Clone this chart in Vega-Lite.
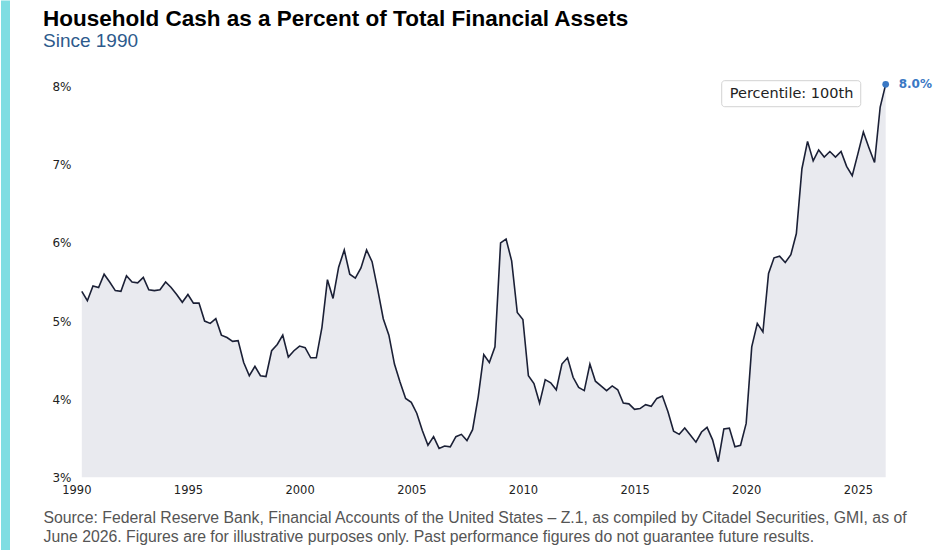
{
  "$schema": "https://vega.github.io/schema/vega-lite/v6.json",
  "width": 936,
  "height": 550,
  "autosize": {"type": "none"},
  "padding": 0,
  "background": "white",
  "title": {
    "text": "Household Cash as a Percent of Total Financial Assets",
    "subtitle": "Since 1990",
    "anchor": "start",
    "dx": 43,
    "offset": -51,
    "font": "Liberation Sans",
    "fontSize": 22.5,
    "fontWeight": "bold",
    "color": "#000000",
    "subtitleFont": "Liberation Sans",
    "subtitleFontSize": 19,
    "subtitleColor": "#2d5a8c",
    "subtitlePadding": 2
  },
  "config": {"view": {"stroke": null}},
  "datasets": {
    "cash": [
      {"date": "1990-03-31", "pct": 5.38}, {"date": "1990-06-30", "pct": 5.26}, {"date": "1990-09-30", "pct": 5.45}, {"date": "1990-12-31", "pct": 5.43},
      {"date": "1991-03-31", "pct": 5.60}, {"date": "1991-06-30", "pct": 5.50}, {"date": "1991-09-30", "pct": 5.39}, {"date": "1991-12-31", "pct": 5.38},
      {"date": "1992-03-31", "pct": 5.58}, {"date": "1992-06-30", "pct": 5.50}, {"date": "1992-09-30", "pct": 5.49}, {"date": "1992-12-31", "pct": 5.56},
      {"date": "1993-03-31", "pct": 5.40}, {"date": "1993-06-30", "pct": 5.39}, {"date": "1993-09-30", "pct": 5.40}, {"date": "1993-12-31", "pct": 5.50},
      {"date": "1994-03-31", "pct": 5.43}, {"date": "1994-06-30", "pct": 5.34}, {"date": "1994-09-30", "pct": 5.24}, {"date": "1994-12-31", "pct": 5.34},
      {"date": "1995-03-31", "pct": 5.23}, {"date": "1995-06-30", "pct": 5.23}, {"date": "1995-09-30", "pct": 5.00}, {"date": "1995-12-31", "pct": 4.97},
      {"date": "1996-03-31", "pct": 5.03}, {"date": "1996-06-30", "pct": 4.82}, {"date": "1996-09-30", "pct": 4.79}, {"date": "1996-12-31", "pct": 4.74},
      {"date": "1997-03-31", "pct": 4.75}, {"date": "1997-06-30", "pct": 4.47}, {"date": "1997-09-30", "pct": 4.30}, {"date": "1997-12-31", "pct": 4.42},
      {"date": "1998-03-31", "pct": 4.30}, {"date": "1998-06-30", "pct": 4.29}, {"date": "1998-09-30", "pct": 4.62}, {"date": "1998-12-31", "pct": 4.70},
      {"date": "1999-03-31", "pct": 4.82}, {"date": "1999-06-30", "pct": 4.54}, {"date": "1999-09-30", "pct": 4.62}, {"date": "1999-12-31", "pct": 4.68},
      {"date": "2000-03-31", "pct": 4.66}, {"date": "2000-06-30", "pct": 4.53}, {"date": "2000-09-30", "pct": 4.53}, {"date": "2000-12-31", "pct": 4.92},
      {"date": "2001-03-31", "pct": 5.53}, {"date": "2001-06-30", "pct": 5.29}, {"date": "2001-09-30", "pct": 5.69}, {"date": "2001-12-31", "pct": 5.91},
      {"date": "2002-03-31", "pct": 5.60}, {"date": "2002-06-30", "pct": 5.55}, {"date": "2002-09-30", "pct": 5.68}, {"date": "2002-12-31", "pct": 5.91},
      {"date": "2003-03-31", "pct": 5.76}, {"date": "2003-06-30", "pct": 5.41}, {"date": "2003-09-30", "pct": 5.03}, {"date": "2003-12-31", "pct": 4.82},
      {"date": "2004-03-31", "pct": 4.45}, {"date": "2004-06-30", "pct": 4.22}, {"date": "2004-09-30", "pct": 4.01}, {"date": "2004-12-31", "pct": 3.96},
      {"date": "2005-03-31", "pct": 3.82}, {"date": "2005-06-30", "pct": 3.60}, {"date": "2005-09-30", "pct": 3.41}, {"date": "2005-12-31", "pct": 3.52},
      {"date": "2006-03-31", "pct": 3.37}, {"date": "2006-06-30", "pct": 3.40}, {"date": "2006-09-30", "pct": 3.39}, {"date": "2006-12-31", "pct": 3.52},
      {"date": "2007-03-31", "pct": 3.55}, {"date": "2007-06-30", "pct": 3.47}, {"date": "2007-09-30", "pct": 3.61}, {"date": "2007-12-31", "pct": 4.03},
      {"date": "2008-03-31", "pct": 4.57}, {"date": "2008-06-30", "pct": 4.47}, {"date": "2008-09-30", "pct": 4.67}, {"date": "2008-12-31", "pct": 6.00},
      {"date": "2009-03-31", "pct": 6.05}, {"date": "2009-06-30", "pct": 5.77}, {"date": "2009-09-30", "pct": 5.11}, {"date": "2009-12-31", "pct": 5.02},
      {"date": "2010-03-31", "pct": 4.30}, {"date": "2010-06-30", "pct": 4.20}, {"date": "2010-09-30", "pct": 3.95}, {"date": "2010-12-31", "pct": 4.25},
      {"date": "2011-03-31", "pct": 4.21}, {"date": "2011-06-30", "pct": 4.12}, {"date": "2011-09-30", "pct": 4.45}, {"date": "2011-12-31", "pct": 4.53},
      {"date": "2012-03-31", "pct": 4.28}, {"date": "2012-06-30", "pct": 4.15}, {"date": "2012-09-30", "pct": 4.11}, {"date": "2012-12-31", "pct": 4.45},
      {"date": "2013-03-31", "pct": 4.23}, {"date": "2013-06-30", "pct": 4.17}, {"date": "2013-09-30", "pct": 4.11}, {"date": "2013-12-31", "pct": 4.17},
      {"date": "2014-03-31", "pct": 4.12}, {"date": "2014-06-30", "pct": 3.95}, {"date": "2014-09-30", "pct": 3.94}, {"date": "2014-12-31", "pct": 3.87},
      {"date": "2015-03-31", "pct": 3.88}, {"date": "2015-06-30", "pct": 3.93}, {"date": "2015-09-30", "pct": 3.91}, {"date": "2015-12-31", "pct": 4.01},
      {"date": "2016-03-31", "pct": 4.04}, {"date": "2016-06-30", "pct": 3.84}, {"date": "2016-09-30", "pct": 3.59}, {"date": "2016-12-31", "pct": 3.55},
      {"date": "2017-03-31", "pct": 3.63}, {"date": "2017-06-30", "pct": 3.54}, {"date": "2017-09-30", "pct": 3.45}, {"date": "2017-12-31", "pct": 3.58},
      {"date": "2018-03-31", "pct": 3.64}, {"date": "2018-06-30", "pct": 3.48}, {"date": "2018-09-30", "pct": 3.20}, {"date": "2018-12-31", "pct": 3.62},
      {"date": "2019-03-31", "pct": 3.63}, {"date": "2019-06-30", "pct": 3.39}, {"date": "2019-09-30", "pct": 3.41}, {"date": "2019-12-31", "pct": 3.69},
      {"date": "2020-03-31", "pct": 4.67}, {"date": "2020-06-30", "pct": 4.97}, {"date": "2020-09-30", "pct": 4.86}, {"date": "2020-12-31", "pct": 5.61},
      {"date": "2021-03-31", "pct": 5.81}, {"date": "2021-06-30", "pct": 5.83}, {"date": "2021-09-30", "pct": 5.75}, {"date": "2021-12-31", "pct": 5.85},
      {"date": "2022-03-31", "pct": 6.12}, {"date": "2022-06-30", "pct": 6.95}, {"date": "2022-09-30", "pct": 7.30}, {"date": "2022-12-31", "pct": 7.05},
      {"date": "2023-03-31", "pct": 7.19}, {"date": "2023-06-30", "pct": 7.10}, {"date": "2023-09-30", "pct": 7.17}, {"date": "2023-12-31", "pct": 7.10},
      {"date": "2024-03-31", "pct": 7.17}, {"date": "2024-06-30", "pct": 6.98}, {"date": "2024-09-30", "pct": 6.86}, {"date": "2024-12-31", "pct": 7.14},
      {"date": "2025-03-31", "pct": 7.42}, {"date": "2025-06-30", "pct": 7.22}, {"date": "2025-09-30", "pct": 7.03}, {"date": "2025-12-31", "pct": 7.74},
      {"date": "2026-03-31", "pct": 8.03}
    ]
  },
  "layer": [
    {
      "data": {"name": "cash"},
      "mark": {"type": "area", "color": "#e9eaef", "opacity": 1},
      "encoding": {
        "x": {
          "field": "date",
          "type": "temporal",
          "scale": {"domain": [{"year": 1986, "month": 8, "date": 1}, {"year": 2028, "month": 7, "date": 1}]},
          "axis": {
            "values": [
              {"year": 1986, "month": 10, "date": 14},
              {"year": 1990, "month": 1, "date": 1},
              {"year": 1995, "month": 1, "date": 1},
              {"year": 2000, "month": 1, "date": 1},
              {"year": 2005, "month": 1, "date": 1},
              {"year": 2010, "month": 1, "date": 1},
              {"year": 2015, "month": 1, "date": 1},
              {"year": 2020, "month": 1, "date": 1},
              {"year": 2025, "month": 1, "date": 1}
            ],
            "labelExpr": "year(datum.value) < 1990 ? '' : timeFormat(datum.value, '%Y')",
            "labelOverlap": false,
            "labelFlush": false,
            "offset": -72.7,
            "domain": false,
            "ticks": false,
            "tickSize": 0,
            "labelPadding": 7,
            "labelFont": "DejaVu Sans",
            "labelFontSize": 11.5,
            "labelColor": "#222222",
            "grid": true,
            "gridColor": "#7fdde2",
            "gridWidth": 9,
            "gridOpacity": {"condition": {"test": "year(datum.value) < 1990", "value": 1}, "value": 0},
            "title": [
              "Source: Federal Reserve Bank, Financial Accounts of the United States – Z.1, as compiled by Citadel Securities, GMI, as of",
              "June 2026. Figures are for illustrative purposes only. Past performance figures do not guarantee future results."
            ],
            "titleX": 43,
            "titleY": 45,
            "titleAlign": "left",
            "titleAnchor": "start",
            "titleBaseline": "alphabetic",
            "titleLineHeight": 19.5,
            "titleFont": "Liberation Sans",
            "titleFontSize": 15.8,
            "titleFontWeight": "normal",
            "titleColor": "#555555"
          }
        },
        "y": {
          "field": "pct",
          "type": "quantitative",
          "scale": {"domain": [2.0694, 9.11], "nice": false, "zero": false},
          "axis": {
            "values": [3, 4, 5, 6, 7, 8],
            "labelExpr": "datum.value + '%'",
            "offset": -71,
            "domain": false,
            "ticks": false,
            "tickSize": 0,
            "labelPadding": 0,
            "grid": false,
            "title": null,
            "labelFont": "DejaVu Sans",
            "labelFontSize": 12,
            "labelColor": "#222222"
          }
        },
        "y2": {"datum": 3}
      }
    },
    {
      "data": {"name": "cash"},
      "mark": {"type": "line", "color": "#1b2036", "strokeWidth": 1.6},
      "encoding": {
        "x": {"field": "date", "type": "temporal"},
        "y": {"field": "pct", "type": "quantitative"}
      }
    },
    {
      "data": {"name": "cash"},
      "transform": [{"filter": "year(datum.date) == 2026"}],
      "mark": {"type": "point", "filled": true, "color": "#3a78c4", "size": 45, "opacity": 1},
      "encoding": {
        "x": {"field": "date", "type": "temporal"},
        "y": {"field": "pct", "type": "quantitative"}
      }
    },
    {
      "data": {"name": "cash"},
      "transform": [
        {"filter": "year(datum.date) == 2026"},
        {"calculate": "format(datum.pct, '.1f') + '%'", "as": "label"}
      ],
      "mark": {"type": "text", "align": "left", "baseline": "middle", "dx": 13, "font": "DejaVu Sans", "fontSize": 12, "fontWeight": "bold", "color": "#3a78c4"},
      "encoding": {
        "x": {"field": "date", "type": "temporal"},
        "y": {"field": "pct", "type": "quantitative"},
        "text": {"field": "label"}
      }
    },
    {
      "data": {"values": [{"label": "Percentile: 100th"}]},
      "mark": {"type": "rect", "fill": "#ffffff", "stroke": "#d2d2d2", "strokeWidth": 1, "cornerRadius": 3},
      "encoding": {
        "x": {"datum": {"year": 2018, "month": 11, "date": 26}, "type": "temporal"},
        "x2": {"datum": {"year": 2025, "month": 2, "date": 16}},
        "y": {"datum": 8.077, "type": "quantitative"},
        "y2": {"datum": 7.744}
      }
    },
    {
      "data": {"values": [{"label": "Percentile: 100th"}]},
      "mark": {"type": "text", "align": "center", "baseline": "middle", "font": "DejaVu Sans", "fontSize": 14.5, "color": "#222222"},
      "encoding": {
        "x": {"datum": {"year": 2022, "month": 1, "date": 12}, "type": "temporal"},
        "y": {"datum": 7.91, "type": "quantitative"},
        "text": {"field": "label"}
      }
    }
  ]
}
